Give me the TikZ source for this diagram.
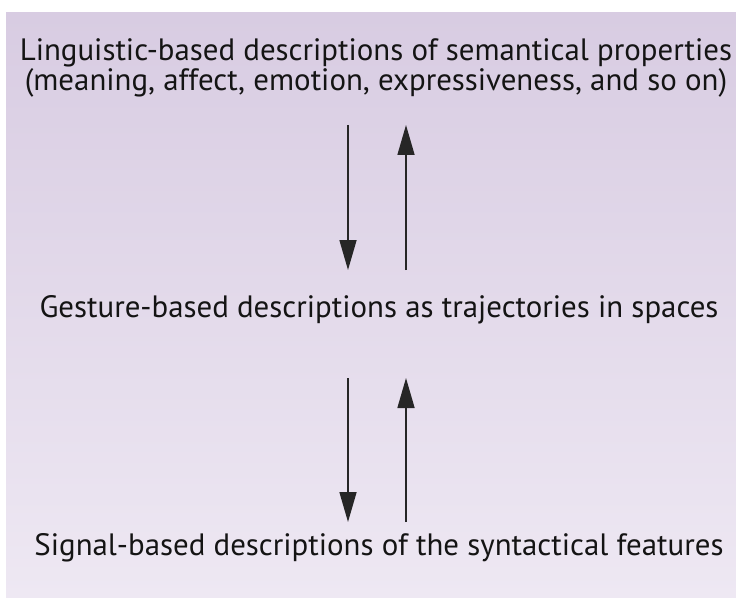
\documentclass[tikz,border=0pt]{standalone}
\usepackage{fontspec}
\setmainfont{PT Sans}
\usetikzlibrary{arrows.meta}
\definecolor{bgtop}{HTML}{D8CCE2}
\definecolor{bgbot}{HTML}{EEE8F3}
\begin{document}
\begin{tikzpicture}[x=1bp,y=-1bp,
  lbl/.style={font=\fontsize{31}{27}\selectfont, inner sep=0pt, align=center, text=black!92},
  arr/.style={line width=1.6bp, draw=black!85, -{Triangle[length=30bp,width=17bp]}}]
\useasboundingbox (0,0) rectangle (736,598);
\clip (0,0) rectangle (736,598);
\fill[white] (0,0) rectangle (736,598);
\shade[top color=bgtop, bottom color=bgbot] (6,13) rectangle (736,598);
\node[lbl] (top) at (376,68) {Linguistic-based descriptions of semantical properties\\(meaning, affect, emotion, expressiveness, and so on)};
\node[lbl] (mid) at (379,310) {Gesture-based descriptions as trajectories in spaces};
\node[lbl] (bot) at (379,548) {Signal-based descriptions of the syntactical features};
\coordinate (a1s) at (348,125);
\coordinate (a1e) at (348,270);
\coordinate (a2s) at (406,270);
\coordinate (a2e) at (406,125);
\coordinate (a3s) at (348,378);
\coordinate (a3e) at (348,522);
\coordinate (a4s) at (406,522);
\coordinate (a4e) at (406,378);
\draw[arr] (a1s) -- (a1e);
\draw[arr] (a2s) -- (a2e);
\draw[arr] (a3s) -- (a3e);
\draw[arr] (a4s) -- (a4e);
\end{tikzpicture}
\end{document}
